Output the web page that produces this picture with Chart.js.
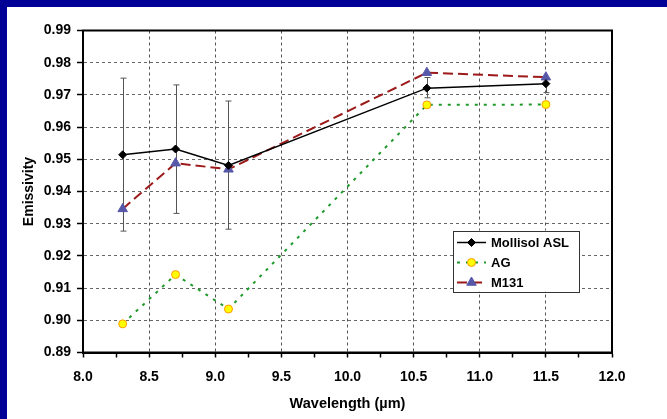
<!DOCTYPE html>
<html><head><meta charset="utf-8">
<script src="https://cdn.jsdelivr.net/npm/chart.js@4.4.1/dist/chart.umd.min.js"></script>
<style>
html,body{margin:0;padding:0;background:#000096;width:667px;height:419px;overflow:hidden;}
#wrap{position:absolute;left:7px;top:7px;width:660px;height:412px;background:#fff;}
canvas{display:block;}
</style></head><body>
<div id="wrap"><canvas id="c" width="660" height="412"></canvas></div>
<script>
// ---- data ----
const wavelengths = [8.3, 8.7, 9.1, 10.6, 11.5];
const mollisol = [0.9514, 0.9532, 0.9481, 0.9721, 0.9735];
const mollisolErrHigh = [0.9752, 0.9731, 0.9681, 0.9754, 0.9749];
const mollisolErrLow = [0.9277, 0.9332, 0.9283, 0.9691, 0.9707];
const ag = [0.8989, 0.9142, 0.9035, 0.9669, 0.9670];
const m131 = [0.9346, 0.9488, 0.9469, 0.9769, 0.9755];
const seriesNames = ['Mollisol ASL', 'AG', 'M131'];
const xTickValues = [8.0, 8.25, 8.5, 8.75, 9.0, 9.25, 9.5, 9.75, 10.0, 10.25, 10.5, 10.75, 11.0, 11.25, 11.5, 11.75, 12.0];
const xLabelValues = [8.0, 8.5, 9.0, 9.5, 10.0, 10.5, 11.0, 11.5, 12.0];
const yTickValues = [0.89, 0.90, 0.91, 0.92, 0.93, 0.94, 0.95, 0.96, 0.97, 0.98, 0.99];
const xTitle = 'Wavelength (\u00b5m)';
const yTitle = 'Emissivity';

const FONT = '"Liberation Sans", Arial, Helvetica, sans-serif';
const pts = arr => wavelengths.map((x, i) => ({x: x, y: arr[i]}));

const errorBarPlugin = {
  id: 'errorBars',
  beforeDatasetsDraw(chart) {
    const {ctx, scales: {x, y}} = chart;
    ctx.save();
    ctx.strokeStyle = '#555';
    ctx.lineWidth = 1;
    wavelengths.forEach((w, i) => {
      const px = Math.round(x.getPixelForValue(w)) + 0.5;
      const yh = y.getPixelForValue(mollisolErrHigh[i]);
      const yl = y.getPixelForValue(mollisolErrLow[i]);
      ctx.beginPath();
      ctx.moveTo(px, yh); ctx.lineTo(px, yl);
      ctx.moveTo(px - 3, yh); ctx.lineTo(px + 3, yh);
      ctx.moveTo(px - 3, yl); ctx.lineTo(px + 3, yl);
      ctx.stroke();
    });
    ctx.restore();
  }
};

const framePlugin = {
  id: 'frame',
  afterDraw(chart) {
    const {ctx, chartArea: a} = chart;
    ctx.save();
    ctx.strokeStyle = '#000';
    ctx.lineWidth = 2;
    ctx.strokeRect(a.left, a.top, a.right - a.left, a.bottom - a.top);
    ctx.restore();
  }
};

const legendPlugin = {
  id: 'boxLegend',
  afterDraw(chart) {
    const {ctx, chartArea: a} = chart;
    const bx = a.right - 159, by = a.top + 200, bw = 126, bh = 61;
    ctx.save();
    ctx.fillStyle = '#fff';
    ctx.fillRect(bx, by, bw, bh);
    ctx.strokeStyle = '#333';
    ctx.lineWidth = 1;
    ctx.strokeRect(Math.round(bx) + 0.5, Math.round(by) + 0.5, bw, bh);
    chart.data.datasets.forEach((ds, i) => {
      const ry = by + 12 + i * 20;
      ctx.save();
      ctx.strokeStyle = ds.borderColor;
      ctx.lineWidth = ds.borderWidth;
      ctx.setLineDash(ds.borderDash || []);
      ctx.beginPath();
      ctx.moveTo(bx + 4, ry); ctx.lineTo(bx + 33, ry);
      ctx.stroke();
      ctx.restore();
      ctx.save();
      ctx.fillStyle = ds.pointBackgroundColor;
      ctx.strokeStyle = ds.pointBorderColor;
      ctx.lineWidth = ds.pointBorderWidth;
      Chart.helpers.drawPoint(ctx, {
        pointStyle: ds.pointStyle, radius: ds.pointRadius, rotation: 0,
        borderWidth: ds.pointBorderWidth
      }, bx + 18.5, ry);
      ctx.restore();
      ctx.fillStyle = '#000';
      ctx.font = 'bold 13px ' + FONT;
      ctx.textBaseline = 'middle';
      ctx.textAlign = 'left';
      ctx.fillText(ds.label, bx + 38, ry + 0.5);
    });
    ctx.restore();
  }
};

new Chart(document.getElementById('c'), {
  type: 'line',
  data: {
    datasets: [
      {
        label: seriesNames[0], data: pts(mollisol),
        borderColor: '#000', borderWidth: 1.5, borderDash: [],
        pointStyle: 'rectRot', pointRadius: 4, pointBackgroundColor: '#000',
        pointBorderColor: '#000', pointBorderWidth: 1, fill: false, tension: 0
      },
      {
        label: seriesNames[1], data: pts(ag),
        borderColor: '#1f9a2a', borderWidth: 2, borderDash: [3, 6],
        pointStyle: 'circle', pointRadius: 4, pointBackgroundColor: '#ffff00',
        pointBorderColor: '#ff9900', pointBorderWidth: 1, fill: false, tension: 0
      },
      {
        label: seriesNames[2], data: pts(m131),
        borderColor: '#9c1a1a', borderWidth: 2, borderDash: [10, 5],
        pointStyle: 'triangle', pointRadius: 5.5, pointBackgroundColor: '#5757a8',
        pointBorderColor: '#5757a8', pointBorderWidth: 1, fill: false, tension: 0
      }
    ]
  },
  options: {
    responsive: false,
    animation: false,
    devicePixelRatio: 1,
    layout: {padding: {top: 23.5, right: 55, left: 0, bottom: 0}},
    plugins: {legend: {display: false}, tooltip: {enabled: false}},
    scales: {
      x: {
        type: 'linear', min: 8, max: 12,
        afterBuildTicks: s => { s.ticks = xTickValues.map(v => ({value: v})); },
        afterFit: s => { s.height = 66.5; },
        ticks: {
          autoSkip: false, maxRotation: 0, padding: 11, color: '#000',
          font: {family: FONT, size: 14, weight: 'bold'},
          callback: v => (xLabelValues.some(l => Math.abs(l - v) < 1e-6) ? v.toFixed(1) : '')
        },
        grid: {
          color: c => (c.tick && xLabelValues.some(l => Math.abs(l - c.tick.value) < 1e-6)) ? '#555' : 'rgba(0,0,0,0)',
          lineWidth: 1, tickLength: 5, tickColor: '#000', tickWidth: 1.5, tickBorderDash: []
        },
        border: {display: true, color: '#000', width: 2, dash: [3, 3]},
        title: {
          display: true, text: xTitle, color: '#000',
          font: {family: FONT, size: 14.5, weight: 'bold'},
          padding: {top: 0, bottom: 6}
        }
      },
      y: {
        type: 'linear', min: 0.89, max: 0.99,
        afterBuildTicks: s => { s.ticks = yTickValues.map(v => ({value: v})); },
        afterFit: s => { s.width = 76; },
        ticks: {
          autoSkip: false, padding: 6, color: '#000',
          font: {family: FONT, size: 14, weight: 'bold'},
          callback: v => v.toFixed(2)
        },
        grid: {
          color: '#666', lineWidth: 1, tickLength: 6, tickColor: '#000', tickWidth: 1.5, tickBorderDash: []
        },
        border: {display: true, color: '#000', width: 2, dash: [3, 3]},
        title: {
          display: true, text: yTitle, color: '#000',
          font: {family: FONT, size: 14, weight: 'bold'},
          padding: {top: 14, bottom: 0}
        }
      }
    }
  },
  plugins: [errorBarPlugin, framePlugin, legendPlugin]
});
</script>
</body></html>
